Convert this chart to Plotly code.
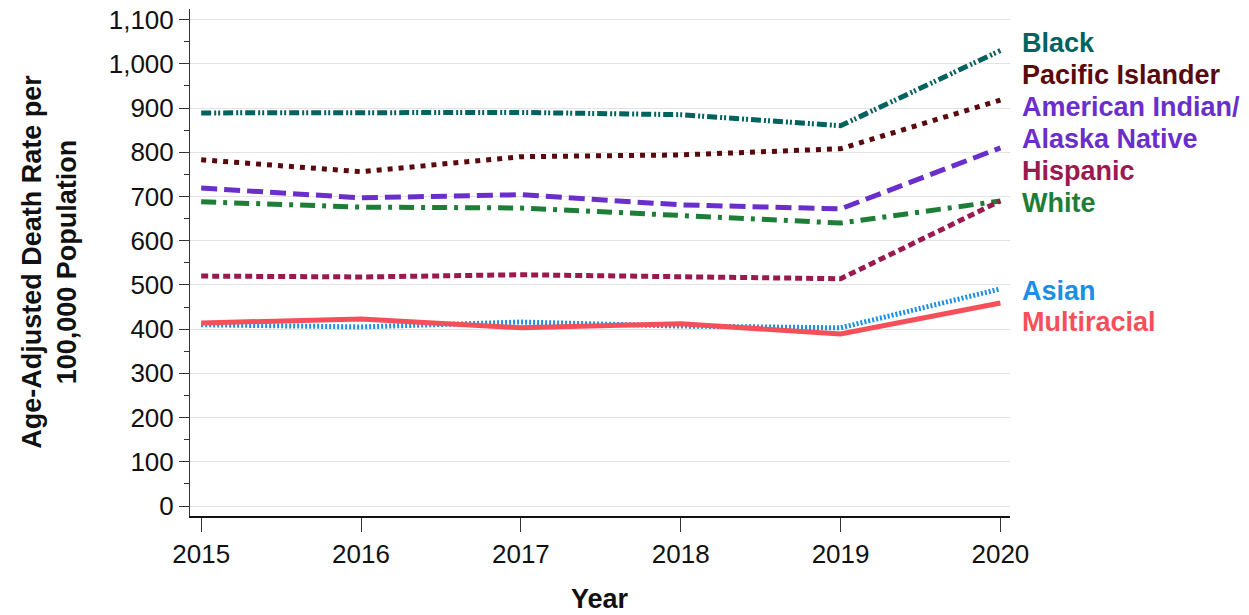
import plotly.graph_objects as go

years = [2015, 2016, 2017, 2018, 2019, 2020]
black = [889, 889, 890, 885, 860, 1030]
pacific = [783, 756, 790, 794, 808, 918]
aian = [719, 697, 704, 681, 672, 810]
white = [688, 676, 674, 656, 640, 690]
hispanic = [520, 518, 523, 518, 514, 690]
asian = [410, 405, 416, 407, 403, 491]
multiracial = [414, 423, 403, 412, 389, 459]

series = [
    ("Black", black, "#00635f", "10px,3px,2px,2px,2px,3px"),
    ("Pacific Islander", pacific, "#5a0a0c", "5px,6px"),
    ("American Indian/<br>Alaska Native", aian, "#6a2ecb", "16px,7px"),
    ("White", white, "#1e7d36", "15px,7px,4px,7px"),
    ("Hispanic", hispanic, "#9a1a50", "7px,4px"),
    ("Asian", asian, "#1b8fe3", "2px,2px"),
    ("Multiracial", multiracial, "#f5505a", "solid"),
]

FONT = "Liberation Sans, Arial"

fig = go.Figure()
for name, vals, color, dash in series:
    fig.add_trace(go.Scatter(x=years, y=vals, mode="lines", name=name,
                             line=dict(color=color, width=5, dash=dash),
                             showlegend=False, hoverinfo="skip"))

labels = [
    ("Black", 1047, "#00635f"),
    ("Pacific Islander", 975, "#5a0a0c"),
    ("American Indian/", 903, "#6a2ecb"),
    ("Alaska Native", 830, "#6a2ecb"),
    ("Hispanic", 758, "#9a1a50"),
    ("White", 686, "#1e7d36"),
    ("Asian", 486, "#1b8fe3"),
    ("Multiracial", 416, "#f5505a"),
]
for txt, yv, col in labels:
    fig.add_annotation(x=1.012, xref="paper", y=yv, yref="y", text="<b>%s</b>" % txt,
                       showarrow=False, xanchor="left", yanchor="middle",
                       font=dict(family=FONT, size=27, color=col))

fig.add_annotation(x=-0.171, xref="paper", y=0.501, yref="paper",
                   text="<b>Age-Adjusted Death Rate per<br>100,000 Population</b>",
                   textangle=-90, showarrow=False, xanchor="center", yanchor="middle",
                   font=dict(family=FONT, size=27, color="#111"))
fig.add_annotation(x=0.5, xref="paper", y=-0.163, yref="paper", text="<b>Year</b>",
                   showarrow=False, xanchor="center", yanchor="middle",
                   font=dict(family=FONT, size=27, color="#111"))

fig.update_layout(
    width=1249, height=615,
    margin=dict(l=190, r=239, t=9, b=99),
    plot_bgcolor="white", paper_bgcolor="white",
    font=dict(family=FONT, size=26, color="#111"),
)
fig.update_xaxes(range=[2014.93, 2020.06], tickvals=years, ticks="outside", ticklen=14,
                 tickcolor="#333", showline=True, linecolor="#111", linewidth=1.5,
                 showgrid=False, zeroline=False, tickfont=dict(size=26), automargin=False)
fig.update_yaxes(range=[-22.6, 1124], tickvals=list(range(0, 1101, 100)),
                 tickformat=",d", ticks="outside", ticklen=10, tickcolor="#333",
                 showline=True, linecolor="#333", linewidth=1, showgrid=True,
                 gridcolor="#e3e3e3", gridwidth=1, zeroline=False,
                 ticklabeloverflow="allow", automargin=False,
                 minor=dict(dtick=50, tick0=0, ticks="outside", ticklen=5, tickcolor="#333", showgrid=False),
                 tickfont=dict(size=26))

fig.write_html("out.html", config={"displayModeBar": False},
               post_script="document.body.style.margin='0';document.body.style.overflow='hidden';")
